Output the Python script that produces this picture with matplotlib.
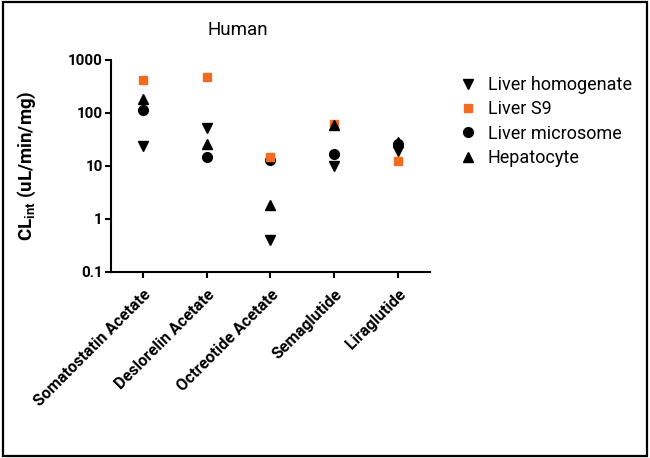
import matplotlib
matplotlib.use('Agg')
import matplotlib.pyplot as plt
from matplotlib.patches import Rectangle

plt.rcParams['font.family'] = ['Roboto', 'DejaVu Sans']
plt.rcParams['mathtext.default'] = 'regular'

# data (CLint, uL/min/mg)
compounds = ["Somatostatin Acetate", "Deslorelin Acetate", "Octreotide Acetate",
             "Semaglutide", "Liraglutide"]
homogenate = [23.7, 53, 0.40, 10, 19]
s9 = [420, 470, 14.6, 63, 12.2]
microsome = [115, 15, 12.7, 16.7, 25.7]
hepatocyte = [183, 25.4, 1.84, 59, 28.6]

y_ticks = [0.1, 1, 10, 100, 1000]
y_tick_labels = ["0.1", "1", "10", "100", "1000"]

orange = "#F26B21"

fig = plt.figure(figsize=(6.5, 4.58), dpi=100)
ax = fig.add_axes([0.1708, 0.4068, 0.4907, 0.4622])

x = list(range(len(compounds)))
h1, = ax.plot(x, homogenate, linestyle='none', marker='v', ms=7.5, color='black', label='Liver homogenate')
h3, = ax.plot(x, microsome, linestyle='none', marker='o', ms=7, color='black', label='Liver microsome')
h2, = ax.plot(x, s9, linestyle='none', marker='s', ms=5.5, color=orange, label='Liver S9')
h4, = ax.plot(x, hepatocyte, linestyle='none', marker='^', ms=7.5, color='black', label='Hepatocyte')

ax.set_yscale('log')
ax.set_ylim(0.1, 1000)
ax.set_xlim(-0.5, 4.5)
ax.set_yticks(y_ticks)
ax.set_yticklabels(y_tick_labels)
ax.minorticks_off()
ax.set_xticks(x)
ax.set_xticklabels(compounds, rotation=45, ha='right', rotation_mode='anchor')

for s in ['top', 'right']:
    ax.spines[s].set_visible(False)
for s in ['left', 'bottom']:
    ax.spines[s].set_linewidth(1.5)
ax.tick_params(width=1.5, length=4)
ax.tick_params(axis='y', labelsize=10.8, pad=2)
ax.tick_params(axis='x', labelsize=11.6, pad=7)
for lab in ax.get_xticklabels() + ax.get_yticklabels():
    lab.set_fontweight('bold')

ax.set_ylabel("CL$_{int}$ (uL/min/mg)", fontsize=13.5, fontweight='bold')
ax.yaxis.set_label_coords(-0.229, 0.5)

fig.text(0.366, 0.934, "Human", fontsize=13.5, ha='center', va='center')

fig.legend(handles=[h1, h2, h3, h4], loc='upper left', bbox_to_anchor=(0.695, 0.85),
           frameon=False, fontsize=13, handlelength=1.0, handletextpad=0.6,
           labelspacing=0.35, borderaxespad=0)

fig.add_artist(Rectangle((0.004, 0.005), 0.991, 0.99, transform=fig.transFigure,
                         fill=False, edgecolor='black', linewidth=1.6))

plt.savefig("out.png", dpi=100)
plt.close()
